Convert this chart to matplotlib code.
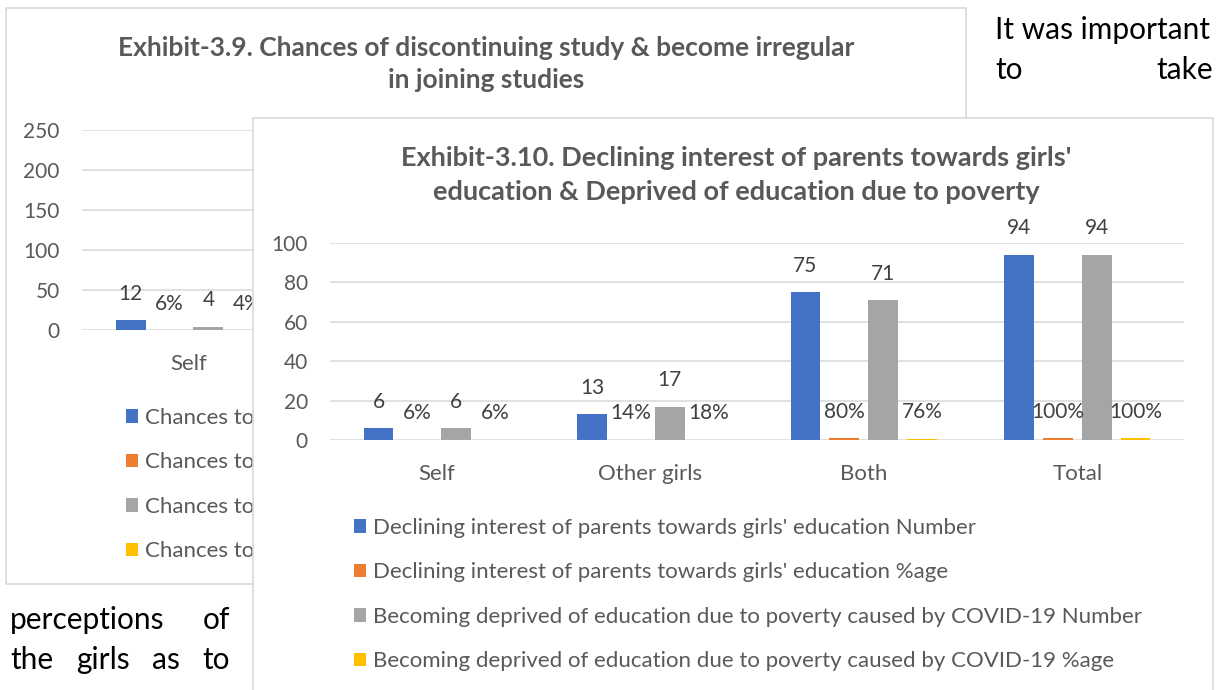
"""
Two overlapping Excel-style bar charts on a report page (Exhibit 3.9 / 3.10)
"""

import matplotlib
matplotlib.use('Agg')
import matplotlib.pyplot as plt
from matplotlib.patches import Rectangle

# Colours (Office palette)
BLUE = '#4472C4'
ORANGE = '#ED7D31'
GREY = '#A5A5A5'
YELLOW = '#FFC000'
TEXT = '#595959'
LABEL = '#404040'
GRID = '#D9D9D9'

# Exhibit-3.9 (background chart, only the "Self" group is visible)
back_categories = ['Self']
back_discontinue_num = [12]
back_discontinue_pct = [6]
back_irregular_num = [4]
back_irregular_pct = [4]
back_legend = ['Chances to discontinue study Number',
               'Chances to discontinue study %age',
               'Chances to become irregular in joining studies Number',
               'Chances to become irregular in joining studies %age']

# Exhibit-3.10 (front chart)
categories = ['Self', 'Other girls', 'Both', 'Total']
parents_num = [6, 13, 75, 94]
parents_pct = [6, 14, 80, 100]
poverty_num = [6, 17, 71, 94]
poverty_pct = [6, 18, 76, 100]
legend_labels = ["Declining interest of parents towards girls' education Number",
                 "Declining interest of parents towards girls' education %age",
                 'Becoming deprived of education due to poverty caused by COVID-19 Number',
                 'Becoming deprived of education due to poverty caused by COVID-19 %age']

W, H = 1226, 690
STEP = 0.182   # distance between bars inside a group (category units)
BAR_W = 0.14


def rect(x0, y0, x1, y1):
    """Pixel box (top-left origin) -> figure fraction rect"""
    return [x0 / W, 1 - y1 / H, (x1 - x0) / W, (y1 - y0) / H]


def draw_group(ax, series, labels_fmt):
    """Draw 4 bar series and their data labels"""
    colors = [BLUE, ORANGE, GREY, YELLOW]
    handles = []
    for k, (vals, fmt, color) in enumerate(zip(series, labels_fmt, colors)):
        xs = [i + (k - 1.5) * STEP for i in range(len(vals))]
        heights = [v / 100 if fmt == 'pct' else v for v in vals]
        bars = ax.bar(xs, heights, width=BAR_W, color=color, zorder=3)
        handles.append(bars)
        for x, h, v in zip(xs, heights, vals):
            txt = f'{v}%' if fmt == 'pct' else f'{v}'
            ax.annotate(txt, (x, h), xytext=(0, 19), textcoords='offset points',
                        ha='center', va='center', fontsize=15, color=LABEL,
                        zorder=4)
    return handles


def style_axes(ax, ymax, ystep):
    ax.set_ylim(0, ymax)
    ax.set_yticks(range(0, ymax + 1, ystep))
    ax.grid(axis='y', color=GRID, linewidth=1.1, zorder=0)
    for s in ax.spines.values():
        s.set_visible(False)
    ax.tick_params(axis='y', length=0, pad=16, labelsize=15, labelcolor=TEXT)
    ax.tick_params(axis='x', length=0, pad=17, labelsize=16, labelcolor=TEXT)


def add_legend(ax, handles, labels, x, y):
    ax.legend(handles, labels, loc='upper left',
              bbox_to_anchor=(x / W, 1 - y / H), bbox_transform=plt.gcf().transFigure,
              frameon=False, fontsize=16, labelcolor=TEXT, handlelength=0.55,
              handleheight=0.55, handletextpad=0.3, labelspacing=1.1)


def main():
    plt.rcParams['font.family'] = ['Lato', 'DejaVu Sans']
    fig = plt.figure(figsize=(12.26, 6.9), dpi=100)

    # --- background chart frame and title
    fig.patches.append(Rectangle((6 / W, 1 - 584 / H), 960 / W, 576 / H,
                                 transform=fig.transFigure, facecolor='white',
                                 edgecolor=GRID, linewidth=1.2, zorder=0.1))
    fig.text(486 / W, 1 - 64 / H,
             'Exhibit-3.9. Chances of discontinuing study & become irregular\nin joining studies',
             ha='center', va='center', fontsize=19, fontweight='bold',
             color=TEXT, linespacing=1.45, zorder=0.2)

    ax_b = fig.add_axes(rect(82, 130, 938, 330), zorder=0.3)
    ax_b.patch.set_alpha(0)
    handles_b = draw_group(ax_b, [back_discontinue_num, back_discontinue_pct,
                                  back_irregular_num, back_irregular_pct],
                           ['num', 'pct', 'num', 'pct'])
    style_axes(ax_b, 250, 50)
    ax_b.set_xlim(-0.5, 3.5)
    ax_b.set_xticks(range(len(back_categories)))
    ax_b.set_xticklabels(back_categories)
    add_legend(ax_b, handles_b, back_legend, 106, 388)

    # --- front chart frame and title
    fig.patches.append(Rectangle((253 / W, 1 - 720 / H), 960 / W, 602 / H,
                                 transform=fig.transFigure, facecolor='white',
                                 edgecolor=GRID, linewidth=1.2, zorder=1))
    fig.text(736 / W, 1 - 175 / H,
             "Exhibit-3.10. Declining interest of parents towards girls'\n"
             'education & Deprived of education due to poverty',
             ha='center', va='center', fontsize=19.5, fontweight='bold',
             color=TEXT, linespacing=1.45, zorder=1.1)

    ax = fig.add_axes(rect(330, 243, 1184, 440), zorder=2)
    ax.patch.set_alpha(0)
    handles = draw_group(ax, [parents_num, parents_pct, poverty_num, poverty_pct],
                         ['num', 'pct', 'num', 'pct'])
    style_axes(ax, 100, 20)
    ax.set_xlim(-0.5, len(categories) - 0.5)
    ax.set_xticks(range(len(categories)))
    ax.set_xticklabels(categories)
    add_legend(ax, handles, legend_labels, 334, 498)

    # --- surrounding body text of the report page
    body = dict(fontsize=21.5, color='black', va='center', zorder=3)
    fig.text(995 / W, 1 - 30 / H, 'It was important', ha='left', **body)
    fig.text(995 / W, 1 - 70 / H, 'to', ha='left', **body)
    fig.text(1213 / W, 1 - 70 / H, 'take', ha='right', **body)
    fig.text(10 / W, 1 - 620 / H, 'perceptions', ha='left', **body)
    fig.text(230 / W, 1 - 620 / H, 'of', ha='right', **body)
    fig.text(10 / W, 1 - 660 / H, 'the', ha='left', **body)
    fig.text(76 / W, 1 - 660 / H, 'girls', ha='left', **body)
    fig.text(152 / W, 1 - 660 / H, 'as', ha='left', **body)
    fig.text(230 / W, 1 - 660 / H, 'to', ha='right', **body)

    fig.savefig('out.png', dpi=100, facecolor='white')


if __name__ == '__main__':
    main()
